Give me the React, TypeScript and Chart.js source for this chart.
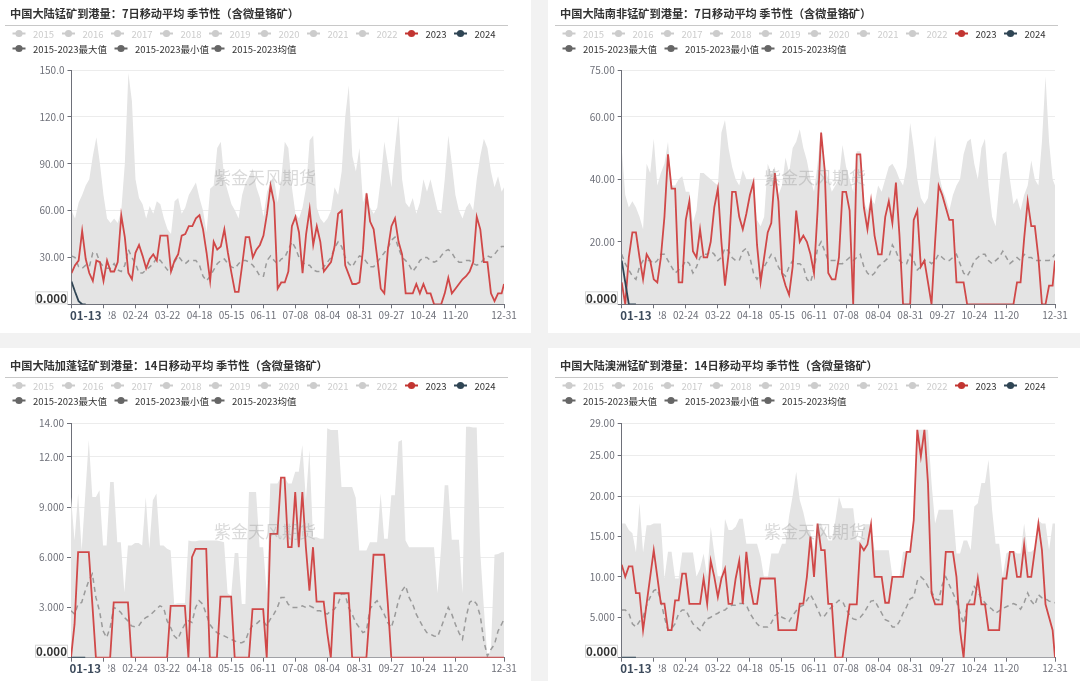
import React, { useEffect, useRef } from 'react';
import { Chart, registerables } from 'chart.js';

Chart.register(...registerables);

// ---------- shared axis data ----------
// sample days (day-of-year index, 0 = 01-01), every 3 days plus the last day
const SAMPLE_DAYS: number[] = [...Array.from({ length: 122 }, (_, i) => i * 3), 365];
const X_TICK_DAYS = [0, 27, 54, 81, 108, 135, 162, 189, 216, 243, 270, 297, 324, 365];
const X_TICK_LABELS = ['', '01-28', '02-24', '03-22', '04-18', '05-15', '06-11', '07-08', '08-04', '08-31', '09-27', '10-24', '11-20', '12-31'];
const POINTER_DAY = 12;
const POINTER_LABEL = '01-13';

const LEGEND_ROW1 = ['2015', '2016', '2017', '2018', '2019', '2020', '2021', '2022', '2023', '2024'];
const LEGEND_ROW2 = ['2015-2023最大值', '2015-2023最小值', '2015-2023均值'];

// ---------- panel 1: 中国大陆锰矿 7日 ----------
const P1_TITLE = '中国大陆锰矿到港量：7日移动平均 季节性（含微量铬矿）';
const P1_Y_TICKS = [0, 30, 60, 90, 120, 150];
const P1_Y_LABELS = ['', '30.00', '60.00', '90.00', '120.0', '150.0'];
const P1_MAX = [
  60, 55, 65, 70, 76, 80, 95, 107, 90, 70,
  55, 52, 55, 52, 60, 90, 148, 130, 80, 68,
  64, 55, 63, 58, 66, 64, 55, 48, 45, 66,
  68, 58, 62, 70, 74, 78, 68, 60, 46, 74,
  76, 100, 104, 80, 72, 64, 60, 55, 70, 78,
  82, 87, 75, 68, 56, 72, 78, 80, 65, 80,
  104, 100, 75, 58, 55, 62, 75, 105, 108, 62,
  55, 52, 55, 60, 75, 70, 85, 120, 140, 95,
  85, 100, 65, 72, 62, 58, 62, 80, 104, 90,
  75, 100, 121, 80, 65, 62, 68, 58, 65, 80,
  72, 80, 70, 60, 58, 80, 108, 90, 70, 60,
  55, 62, 65, 60, 80, 95, 106, 100, 85, 75,
  82, 72, 75,
];
const P1_MEAN = [
  31, 30, 24, 23, 25, 24, 33, 33, 27, 24,
  23, 23, 26, 22, 21, 25, 35, 30, 26, 20,
  20, 22, 24, 26, 30, 28, 25, 22, 21, 27,
  31, 28, 26, 28, 28, 28, 25, 18, 15, 18,
  22, 26, 28, 29, 26, 24, 23, 26, 28, 28,
  27, 25, 22, 18, 18, 28, 31, 28, 26, 29,
  30, 35, 40, 36, 30, 27, 25, 25, 22, 21,
  21, 24, 27, 30, 36, 40, 37, 30, 26, 24,
  28, 31, 30, 27, 24, 24, 27, 30, 33, 36,
  41, 43, 36, 30, 28, 25, 21, 24, 28, 30,
  30, 28, 27, 28, 31, 34, 35, 33, 29, 27,
  27, 28, 28, 26, 25, 26, 29, 31, 30, 32,
  35, 37, 37,
];
const P1_2023 = [
  20, 25, 28, 47, 29, 20, 15, 28, 27, 15,
  28, 21, 21, 27, 57, 43, 20, 16, 33, 38,
  31, 23, 29, 32, 28, 44, 44, 44, 21, 28,
  32, 44, 45, 50, 50, 55, 57, 48, 33, 15,
  40, 35, 37, 48, 33, 20, 8, 8, 25, 43,
  43, 30, 35, 38, 44, 58, 76, 65, 10, 14,
  14, 21, 50, 56, 46, 20, 45, 61, 38, 50,
  40, 21, 24, 27, 37, 58, 60, 25, 19, 13,
  13, 14, 35, 71, 53, 48, 30, 10, 7, 35,
  50, 55, 40, 32, 7, 7, 7, 13, 7, 13,
  7, 7, 0, 0, 0, 7, 17, 7, 10, 13,
  16, 18, 21, 27, 56, 48, 27, 27, 7, 2,
  7, 7, 13,
];
const P1_2024 = [14.5, 8, 2, 0, 0];

// ---------- panel 2: 中国大陆南非锰矿 7日 ----------
const P2_TITLE = '中国大陆南非锰矿到港量：7日移动平均 季节性（含微量铬矿）';
const P2_Y_TICKS = [0, 20, 40, 60, 75];
const P2_Y_LABELS = ['', '20.00', '40.00', '60.00', '75.00'];
const P2_MAX = [
  50, 35, 31, 33, 31, 28, 24, 45, 42, 53,
  38, 42, 45, 52, 38, 38, 40, 41, 36, 36,
  26, 30, 42, 42, 41, 40, 39, 38, 55, 59,
  50, 44, 40, 38, 43, 40, 40, 40, 27, 25,
  28, 45, 42, 44, 35, 38, 47, 42, 50, 52,
  56, 50, 46, 40, 36, 45, 56, 44, 40, 36,
  38, 40, 51, 44, 40, 36, 49, 49, 33, 30,
  34, 32, 38, 36, 40, 44, 45, 43, 40, 38,
  44, 58, 50, 40, 34, 32, 34, 45, 54, 42,
  37, 34, 30, 35, 38, 40, 48, 52, 53, 45,
  40, 50, 53, 38, 28, 25, 38, 48, 49, 40,
  32, 34, 30, 35, 38, 46, 40, 38, 52, 73,
  52, 40, 38,
];
const P2_MEAN = [
  16, 13, 11, 9, 8, 12, 14, 14, 14, 13,
  14, 16, 16, 14, 12, 10, 11, 12, 14, 13,
  10, 12, 15, 16, 16, 17, 16, 14, 15, 18,
  17, 15, 14, 14, 17, 18, 15, 10, 8, 10,
  12, 14, 16, 15, 12, 10, 9, 12, 14, 13,
  13, 12, 8, 7, 11, 18, 20, 17, 14, 14,
  14, 13, 13, 14, 15, 14, 15, 16, 12, 10,
  9, 10, 12, 13, 14, 15, 19, 17, 14, 13,
  13, 16, 14, 11, 12, 14, 14, 13, 14, 16,
  15, 14, 14, 15, 16, 13, 10, 9, 11, 14,
  15, 16, 16, 14, 13, 14, 15, 17, 15, 13,
  14, 15, 14, 16, 15, 15, 14, 14, 14, 14,
  14, 15, 16,
];
const P2_2023 = [
  7, 0, 15, 23, 23, 15, 8, 16, 14, 8,
  7, 15, 28, 48, 37, 37, 7, 7, 27, 33,
  17, 15, 24, 15, 15, 20, 31, 37, 20, 6,
  16, 36, 36, 28, 24, 29, 35, 39, 19, 7,
  15, 23, 26, 42, 33, 10, 6, 3, 12, 30,
  20, 22, 20, 16, 10, 30, 55, 43, 10, 8,
  8, 15, 36, 36, 30, 0, 48, 48, 31, 24,
  33, 22, 16, 16, 28, 33, 26, 39, 22, 0,
  0, 0, 27, 30, 12, 14, 7, 0, 20, 38,
  35, 31, 27, 27, 7, 7, 7, 0, 0, 0,
  0, 0, 0, 0, 0, 0, 0, 0, 0, 0,
  0, 7, 7, 21, 33, 25, 25, 15, 0, 0,
  6, 6, 14,
];
const P2_2024 = [14, 7, 0, 0, 0];

// ---------- panel 3: 中国大陆加蓬锰矿 14日 ----------
const P3_TITLE = '中国大陆加蓬锰矿到港量：14日移动平均 季节性（含微量铬矿）';
const P3_Y_TICKS = [0, 3, 6, 9, 12, 14];
const P3_Y_LABELS = ['', '3.000', '6.000', '9.000', '12.00', '14.00'];
const P3_MAX = [
  9.6, 7.0, 9.8, 6.4, 9.7, 13.0, 9.6, 9.6, 10.0, 6.7,
  6.7, 10.5, 10.5, 6.9, 6.9, 3.9, 6.7, 6.7, 6.85, 6.85,
  6.7, 9.6, 6.5, 9.4, 9.8, 6.7, 6.7, 6.5, 6.4, 3.2,
  3.25, 3.25, 3.25, 7.0, 6.95, 6.95, 7.0, 7.0, 7.0, 7.0,
  7.0, 7.0, 6.95, 6.9, 3.85, 3.7, 6.25, 6.25, 3.2, 3.2,
  9.9, 9.9, 9.9, 6.6, 6.6, 3.85, 10.4, 10.4, 10.4, 10.8,
  10.8, 10.4, 10.4, 11.1, 11.1, 12.7, 9.4, 12.4, 7.2, 7.2,
  7.1, 7.1, 13.7, 13.6, 13.6, 13.6, 10.2, 10.2, 10.2, 10.2,
  9.55, 6.4, 6.4, 6.4, 6.9, 6.9, 6.9, 9.8, 7.1, 7.1,
  9.7, 9.7, 12.9, 13.0, 7.0, 6.6, 6.6, 6.6, 6.6, 6.6,
  6.6, 6.6, 6.6, 3.85, 6.6, 10.3, 10.3, 7.05, 7.05, 7.05,
  3.85, 13.8, 13.8, 13.75, 13.75, 6.3, 3.0, 0, 0.5, 6.15,
  6.2, 6.3, 6.3,
];
const P3_MEAN = [
  2.8, 2.6, 3.2, 3.3, 4.0, 4.6, 5.0, 3.6, 2.8, 1.6,
  1.2, 1.8, 3.0, 2.9, 2.7, 2.4, 2.2, 1.9, 1.85, 1.9,
  2.2, 2.4, 2.5, 2.7, 2.9, 3.1, 3.0, 2.2, 1.8, 1.3,
  1.1, 1.6, 2.0, 2.2, 2.1, 3.0, 3.4, 3.2, 2.6, 2.0,
  1.7, 1.5, 1.4, 1.3, 1.2, 1.1, 1.0, 0.9, 0.9, 1.0,
  1.6, 1.9, 2.0, 2.2, 2.2, 1.9, 2.3, 2.6, 3.0, 3.6,
  3.6, 3.2, 3.0, 3.0, 3.0, 3.1, 3.0, 3.1, 3.0, 2.8,
  2.8, 2.7, 2.6, 2.8, 2.9, 3.2, 3.8, 3.8, 3.0, 2.6,
  2.1, 1.8, 1.5, 1.6, 2.9, 3.2, 3.4, 3.0, 2.6, 2.1,
  1.8, 2.5, 3.4, 4.0, 4.3, 3.6, 3.2, 2.6, 2.2, 1.8,
  1.5, 1.4, 1.3, 1.25, 1.8, 2.4, 3.0, 2.6, 2.0, 1.5,
  1.1, 2.4, 3.3, 3.45, 3.2, 2.5, 1.0, 0.1, 0.5, 0.8,
  1.6, 2.0, 2.3,
];
const P3_2023 = [
  0, 2, 6.3, 6.3, 6.3, 6.3, 3.2, 0, 0, 0,
  0, 0, 3.3, 3.3, 3.3, 3.3, 3.3, 0, 0, 0,
  0, 0, 0, 0, 0, 0, 0, 0, 3.1, 3.1,
  3.1, 3.1, 3.1, 0, 6, 6.5, 6.5, 6.5, 6.5, 0,
  0, 0, 3.65, 3.65, 3.65, 3.65, 0, 0, 0, 0,
  0, 2.9, 2.9, 2.9, 2.9, 0, 7.4, 7.4, 7.4, 10.75,
  10.75, 6.6, 6.6, 9.9, 6.6, 9.9, 6.6, 4, 6.6, 3.35,
  3.35, 3.35, 1.5, 0, 3.85, 3.85, 3.85, 3.85, 3.85, 0,
  0, 0, 0, 0, 2.9, 6.15, 6.15, 6.15, 6.15, 3.3,
  0, 0, 0, 0, 0, 0, 0, 0, 0, 0,
  0, 0, 0, 0, 0, 0, 0, 0, 0, 0,
  0, 0, 0, 0, 0, 0, 0, 0, 0, 0,
  0, 0, 0,
];
const P3_2024 = [0, 0, 0, 0, 0];

// ---------- panel 4: 中国大陆澳洲锰矿 14日 ----------
const P4_TITLE = '中国大陆澳洲锰矿到港量：14日移动平均 季节性（含微量铬矿）';
const P4_Y_TICKS = [0, 5, 10, 15, 20, 25, 29];
const P4_Y_LABELS = ['', '5.000', '10.00', '15.00', '20.00', '25.00', '29.00'];
const P4_MAX = [
  16.6, 16.6, 15.8, 15.4, 13, 19.1, 13, 16.4, 16.4, 16.6,
  16.6, 16.6, 9.8, 13.1, 13.1, 9.8, 9.8, 13, 13, 13,
  13, 10, 11, 12.9, 10, 16.2, 12.9, 10, 10, 17.2,
  15.8, 15.8, 16.2, 17.2, 17.2, 14.1, 14.1, 14.1, 14.1, 12.5,
  9.8, 9.8, 12.9, 12.9, 12.9, 14.1, 14.1, 17.5, 20, 23,
  19.5, 18, 16, 15.5, 13.3, 16.6, 16.6, 15.5, 14.5, 14.5,
  17, 19.9, 18.5, 18.5, 18.5, 18.5, 14.5, 14.5, 16.5, 16.5,
  16.5, 13.3, 13.3, 13.3, 13.3, 13.3, 10, 10, 10, 13.1,
  13.1, 13.1, 17, 28.2, 28.2, 28.2, 28.2, 21.6, 16.6, 18.3,
  18.3, 18.3, 18.3, 18.3, 12.9, 12.9, 14.5, 14.5, 13.3, 18.7,
  19.1, 21.6, 21.6, 24.5, 18.3, 14.1, 14.1, 10, 12.9, 13.2,
  13.2, 12.9, 12.9, 16.6, 13.1, 13.1, 13.5, 17, 16.6, 16.6,
  13.3, 16.6, 16.6,
];
const P4_MEAN = [
  5.9, 5.9, 5.5, 4.2, 3.8, 4.5, 5.0, 6.5, 7.5, 8.3,
  8.5, 7.0, 5.0, 3.4, 3.6, 4.2, 5.5, 5.9, 5.9, 5.0,
  4.2, 3.8, 3.4, 4.2, 4.8, 5.0, 5.3, 5.5, 5.8, 5.9,
  6.3, 6.5, 6.5, 6.7, 6.7, 6.5, 5.5, 4.8, 4.2, 3.8,
  3.8, 3.8, 4.3, 5.2, 5.5, 5.0, 4.8, 4.5, 5.2, 5.8,
  6.3, 6.5, 7.1, 7.8, 7.0, 6.0, 5.0, 5.2, 5.8, 6.3,
  6.7, 7.1, 7.0, 6.0, 5.3, 4.8, 4.7, 5.0, 5.5, 6.3,
  7.0, 7.1, 6.3, 5.5, 4.7, 4.5, 3.8, 3.8, 4.5, 5.5,
  6.3, 7.3, 7.5, 9.5, 10, 9.6, 8.8, 8.2, 7.3, 7.1,
  9.0, 10, 9.0, 8.0, 7.0, 5.5, 4.2, 6.5, 7.3, 8.8,
  8.2, 7.3, 6.8, 6.3, 6.0, 5.5, 5.8, 6.1, 6.3, 6.5,
  6.7, 6.5, 6.0, 6.8, 8.0, 7.0, 6.5, 7.8, 7.4, 7.3,
  7.0, 6.9, 6.8,
];
const P4_2023 = [
  11.5, 10, 11.3, 11.3, 8, 8, 3.4, 6.7, 10, 13.3,
  10, 6.7, 6.7, 3.4, 3.4, 7.1, 7.1, 10.4, 10.4, 6.65,
  6.65, 6.65, 6.65, 9.8, 6.65, 12, 10, 7.5, 9.8, 11,
  6.65, 6.65, 9.8, 12, 6.65, 13.1, 9, 6.65, 6.65, 9.8,
  9.8, 9.8, 9.8, 9.8, 3.4, 3.4, 3.4, 3.4, 3.4, 3.4,
  6.7, 6.7, 10, 15, 10, 16.6, 13.3, 13.3, 6.65, 6.65,
  0, 0, 0, 3.4, 6.6, 6.6, 6.6, 14, 13.3, 14,
  16.5, 10, 10, 10, 6.8, 6.8, 10, 10, 10, 10,
  13.1, 13.1, 17, 28.2, 24.9, 28.2, 21.6, 8, 6.6, 6.6,
  6.6, 13.1, 13.1, 13.1, 10, 3.4, 0, 6.6, 6.6, 6.6,
  9.8, 6.6, 6.6, 3.4, 3.4, 3.4, 3.4, 9.8, 9.8, 13.1,
  13.1, 10, 10, 14, 10, 10, 13.3, 16.6, 13.3, 6.6,
  5, 3.4, 0,
];
const P4_2024 = [0, 0, 0, 0, 0];

// ---------- styling ----------
const FONT = '"Noto Sans CJK SC", "Noto Sans", sans-serif';
const AXIS_COLOR = '#6e7079';
const AREA_COLOR = '#e4e4e4';
const MEAN_COLOR = '#9a9a9a';
const RED = '#d04848';
const DARK = '#2f4554';
const CANVAS_W = 530;
const CANVAS_H = 337;
const X_AXIS_H = 22;

type PanelDef = {
  x: number; y: number;
  title: string;
  yTicks: number[]; yLabels: string[]; yMax: number;
  max: number[]; mean: number[]; y2023: number[]; y2024: number[];
  area: { left: number; top: number; right: number; bottom: number };
};

const PANELS: PanelDef[] = [
  { x: 0, y: -4, title: P1_TITLE, yTicks: P1_Y_TICKS, yLabels: P1_Y_LABELS, yMax: 150, max: P1_MAX, mean: P1_MEAN, y2023: P1_2023, y2024: P1_2024, area: { left: 71.5, top: 74, right: 504, bottom: 308.3 } },
  { x: 550, y: -4, title: P2_TITLE, yTicks: P2_Y_TICKS, yLabels: P2_Y_LABELS, yMax: 75, max: P2_MAX, mean: P2_MEAN, y2023: P2_2023, y2024: P2_2024, area: { left: 71.7, top: 74, right: 505, bottom: 308.3 } },
  { x: 0, y: 348, title: P3_TITLE, yTicks: P3_Y_TICKS, yLabels: P3_Y_LABELS, yMax: 14, max: P3_MAX, mean: P3_MEAN, y2023: P3_2023, y2024: P3_2024, area: { left: 71, top: 75.3, right: 504, bottom: 309.7 } },
  { x: 550, y: 348, title: P4_TITLE, yTicks: P4_Y_TICKS, yLabels: P4_Y_LABELS, yMax: 29, max: P4_MAX, mean: P4_MEAN, y2023: P4_2023, y2024: P4_2024, area: { left: 71.7, top: 75.3, right: 505, bottom: 309.7 } },
];

const LEGEND_ROW1_X = [19, 68.5, 117.5, 166.5, 215.5, 264.5, 313.5, 362.5, 411.5, 460.5];
const LEGEND_ROW2_X = [19, 121, 218];

const toPoints = (arr: number[]) => arr.map((y, i) => ({ x: SAMPLE_DAYS[i], y }));

const decorPlugin = {
  id: 'decor',
  afterDraw(chart: any, _args: any, opts: any) {
    const ctx = chart.ctx as CanvasRenderingContext2D;
    const area = chart.chartArea;
    ctx.save();
    // title
    ctx.font = `bold 11.2px ${FONT}`;
    ctx.fillStyle = '#333';
    ctx.textAlign = 'left';
    ctx.textBaseline = 'middle';
    ctx.fillText(opts.title, 10, 18);
    // underline
    ctx.strokeStyle = '#c8c8c8';
    ctx.lineWidth = 1;
    ctx.beginPath();
    ctx.moveTo(5, 29.5);
    ctx.lineTo(508, 29.5);
    ctx.stroke();

    const drawItem = (cx: number, cy: number, color: string, text: string, textColor: string) => {
      ctx.strokeStyle = color;
      ctx.lineWidth = 2;
      ctx.beginPath();
      ctx.moveTo(cx - 6.5, cy);
      ctx.lineTo(cx + 6.5, cy);
      ctx.stroke();
      ctx.fillStyle = color;
      ctx.beginPath();
      ctx.arc(cx, cy, 3.6, 0, Math.PI * 2);
      ctx.fill();
      ctx.font = `9.5px ${FONT}`;
      ctx.fillStyle = textColor;
      ctx.textAlign = 'left';
      ctx.textBaseline = 'middle';
      ctx.fillText(text, cx + 14, cy + 0.5);
    };
    LEGEND_ROW1.forEach((t, i) => {
      let color = '#cccccc';
      let tc = '#cccccc';
      if (t === '2023') { color = '#c23531'; tc = '#333'; }
      if (t === '2024') { color = DARK; tc = '#333'; }
      drawItem(LEGEND_ROW1_X[i], 37.5, color, t, tc);
    });
    LEGEND_ROW2.forEach((t, i) => drawItem(LEGEND_ROW2_X[i], 52.5, '#666', t, '#333'));

    // watermark
    ctx.font = `17px ${FONT}`;
    ctx.fillStyle = 'rgba(140,140,140,0.32)';
    ctx.textAlign = 'center';
    ctx.textBaseline = 'middle';
    ctx.fillText('紫金天风期货', 265, area.top + 108);

    // y pointer label "0.000"
    const yb = area.bottom;
    ctx.fillStyle = '#fff';
    ctx.strokeStyle = '#d6d6d6';
    ctx.lineWidth = 1;
    ctx.fillRect(35, yb - 12.5, 33, 12);
    ctx.strokeRect(35.5, yb - 12.5, 32, 12);
    ctx.font = `bold 11.5px ${FONT}`;
    ctx.fillStyle = '#333';
    ctx.textAlign = 'center';
    ctx.fillText('0.000', 51.5, yb - 6);

    // x pointer label "01-13"
    const px = chart.scales.x.getPixelForValue(POINTER_DAY);
    ctx.fillStyle = '#fff';
    ctx.fillRect(px - 21, yb + 4.5, 44, 14);
    ctx.font = `bold 11.5px ${FONT}`;
    ctx.fillStyle = '#3c4a5b';
    ctx.textAlign = 'center';
    ctx.fillText(POINTER_LABEL, px, yb + 11);
    ctx.restore();
  },
};

function buildConfig(p: PanelDef): any {
  const a = p.area;
  return {
    type: 'line',
    data: {
      datasets: [
        { label: '2015-2023最大值', data: toPoints(p.max), fill: 'origin', backgroundColor: AREA_COLOR, borderWidth: 0, borderColor: 'rgba(0,0,0,0)', pointRadius: 0, tension: 0, order: 4 },
        { label: '2015-2023均值', data: toPoints(p.mean), fill: false, borderColor: MEAN_COLOR, borderDash: [5, 4], borderWidth: 1.5, pointRadius: 0, tension: 0, order: 3 },
        { label: '2023', data: toPoints(p.y2023), fill: false, borderColor: RED, borderWidth: 1.8, pointRadius: 0, tension: 0, order: 2 },
        { label: '2024', data: toPoints(p.y2024), fill: false, borderColor: DARK, borderWidth: 1.8, pointRadius: 0, tension: 0, order: 1 },
      ],
    },
    options: {
      animation: false,
      responsive: false,
      maintainAspectRatio: false,
      events: [],
      layout: { padding: { left: 0, top: a.top, right: CANVAS_W - a.right, bottom: CANVAS_H - a.bottom - X_AXIS_H } },
      plugins: {
        legend: { display: false },
        title: { display: false },
        tooltip: { enabled: false },
        decor: { title: p.title },
      },
      scales: {
        x: {
          type: 'linear',
          min: 0,
          max: 365,
          afterBuildTicks: (s: any) => { s.ticks = X_TICK_DAYS.map((v) => ({ value: v })); },
          afterFit: (s: any) => { s.height = X_AXIS_H; s.paddingLeft = 0; s.paddingRight = 0; },
          ticks: {
            autoSkip: false, maxRotation: 0, minRotation: 0, padding: 1,
            color: AXIS_COLOR, font: { size: 10, family: FONT },
            callback: (_v: any, i: number) => X_TICK_LABELS[i],
          },
          grid: { drawOnChartArea: false, drawTicks: true, tickLength: 4, color: AXIS_COLOR },
          border: { display: true, color: AXIS_COLOR, width: 1 },
        },
        y: {
          type: 'linear',
          min: 0,
          max: p.yMax,
          afterBuildTicks: (s: any) => { s.ticks = p.yTicks.map((v) => ({ value: v })); },
          afterFit: (s: any) => { s.width = a.left; s.paddingTop = 0; s.paddingBottom = 0; },
          ticks: {
            padding: 3, color: AXIS_COLOR, font: { size: 10, family: FONT },
            callback: (_v: any, i: number) => p.yLabels[i],
          },
          grid: { color: '#ececec', lineWidth: 1, drawTicks: true, tickLength: 4, tickColor: AXIS_COLOR },
          border: { display: true, color: AXIS_COLOR, width: 1 },
        },
      },
    },
    plugins: [decorPlugin],
  };
}

function Panel({ def }: { def: PanelDef }) {
  const ref = useRef<HTMLCanvasElement | null>(null);
  useEffect(() => {
    if (!ref.current) return;
    const chart = new Chart(ref.current, buildConfig(def));
    return () => chart.destroy();
  }, [def]);
  return (
    <canvas
      ref={ref}
      width={CANVAS_W}
      height={CANVAS_H}
      style={{ position: 'absolute', left: def.x, top: def.y, width: CANVAS_W, height: CANVAS_H }}
    />
  );
}

const BG_RECTS = [
  { x: 0, y: -4, w: 531, h: 337 },
  { x: 548, y: -4, w: 532, h: 337 },
  { x: 0, y: 348, w: 531, h: 337 },
  { x: 548, y: 348, w: 532, h: 337 },
];

export default function App() {
  return (
    <div style={{ position: 'fixed', left: 0, top: 0, width: 1080, height: 681, background: '#f2f2f2', overflow: 'hidden' }}>
      {BG_RECTS.map((r, i) => (
        <div key={i} style={{ position: 'absolute', left: r.x, top: r.y, width: r.w, height: r.h, background: '#fff' }} />
      ))}
      {PANELS.map((p, i) => (
        <Panel key={i} def={p} />
      ))}
    </div>
  );
}
